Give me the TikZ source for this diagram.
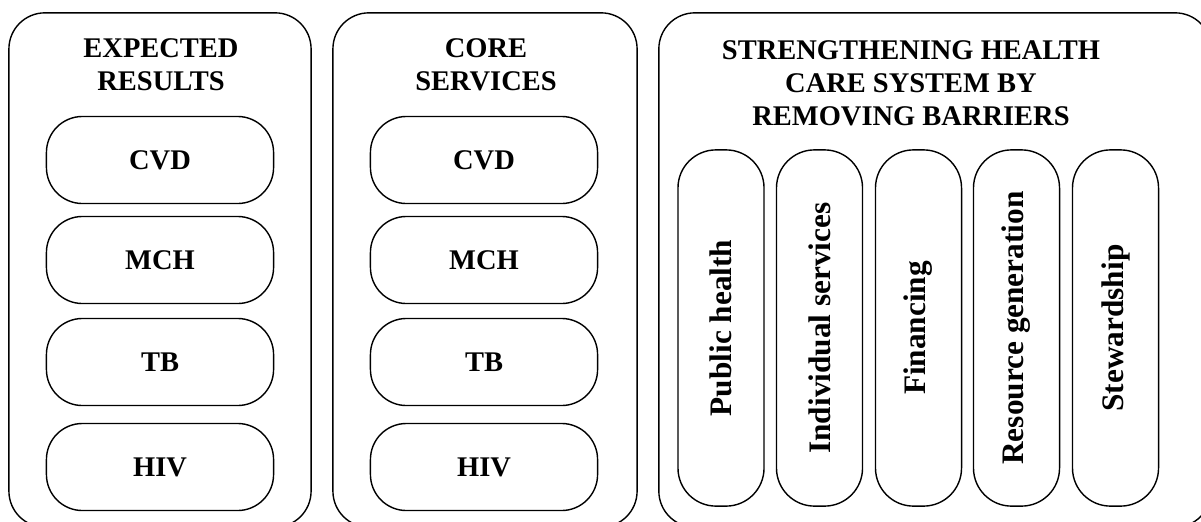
\documentclass[tikz,border=0pt]{standalone}
\usepackage{fontspec}
\setmainfont{Liberation Serif}
\usepackage{tikz}
\usetikzlibrary{positioning}

\begin{document}
\begin{tikzpicture}[
  x=0.01cm, y=-0.01cm,
  every node/.style = {font=\bfseries\fontsize{8.1}{9.4}\selectfont},
  panel/.style = {
    rectangle, rounded corners=0.36cm, draw=black, line width=0.4pt,
    minimum height=5.14cm
  },
  title/.style = {
    align=center, inner sep=0pt, anchor=north
  },
  hbox/.style = {
    rectangle, rounded corners=0.36cm, draw=black, line width=0.4pt,
    minimum width=2.27cm, minimum height=0.87cm
  },
  vbox/.style = {
    rectangle, rounded corners=0.38cm, draw=black, line width=0.4pt,
    minimum width=3.56cm, minimum height=0.86cm, rotate=90,
    font=\bfseries\fontsize{8.9}{10}\selectfont
  }
]
\clip (0,0) rectangle (1201,521);

% Panels
\node[panel, minimum width=3.02cm] (expected) at (160,270) {};
\node[panel, minimum width=3.04cm] (core) at (485,270) {};
\node[panel, minimum width=5.52cm] (system) at (935,270) {};

% Titles
\node[title] (t_expected) at (161,38) {EXPECTED\\RESULTS};
\node[title] (t_core) at (486,38) {CORE\\SERVICES};
\node[title] (t_system) at (911,40) {STRENGTHENING HEALTH\\CARE SYSTEM BY\\REMOVING BARRIERS};

% Expected results
\node[hbox] (e_cvd) at (160,160) {CVD};
\node[hbox] (e_mch) at (160,260) {MCH};
\node[hbox] (e_tb) at (160,362) {TB};
\node[hbox] (e_hiv) at (160,467) {HIV};

% Core services
\node[hbox] (c_cvd) at (484,160) {CVD};
\node[hbox] (c_mch) at (484,260) {MCH};
\node[hbox] (c_tb) at (484,362) {TB};
\node[hbox] (c_hiv) at (484,467) {HIV};

% Barriers
\node[vbox] (public) at (721,328) {Public health};
\node[vbox] (individual) at (819.5,328) {Individual services};
\node[vbox] (financing) at (918.5,328) {Financing};
\node[vbox] (resource) at (1016.5,328) {Resource generation};
\node[vbox] (steward) at (1115.5,328) {Stewardship};

\end{tikzpicture}
\end{document}
